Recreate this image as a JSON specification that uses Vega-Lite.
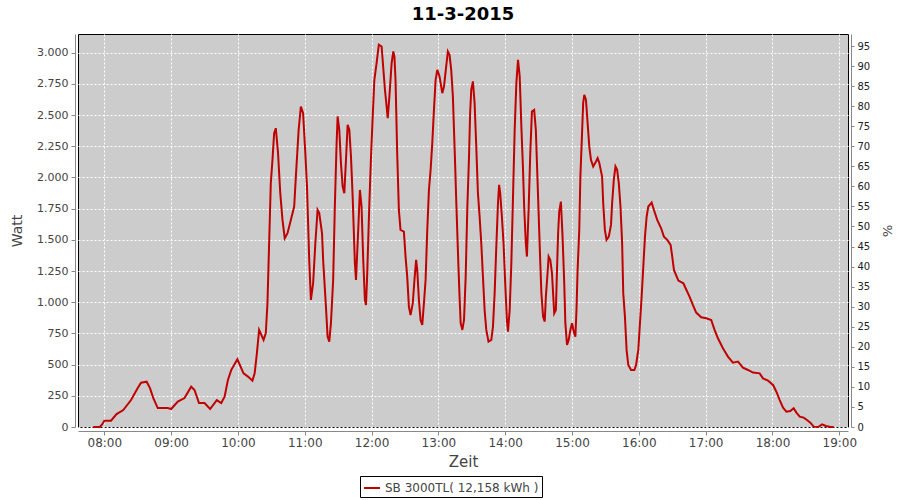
{
  "$schema": "https://vega.github.io/schema/vega-lite/v6.json",
  "width": 770,
  "height": 393,
  "autosize": {"type": "none"},
  "padding": {"left": 78, "top": 34, "right": 52, "bottom": 73},
  "background": "white",
  "title": {"text": "11-3-2015", "fontSize": 18, "fontWeight": "bold", "font": "DejaVu Sans", "color": "#000000", "offset": 7},
  "config": {
    "font": "DejaVu Sans",
    "view": {"fill": "#cccccc", "stroke": "#000000", "strokeWidth": 1},
    "axis": {"domainColor": "#888888", "tickColor": "#888888", "labelColor": "#444444", "titleColor": "#444444", "gridColor": "#ffffff", "gridDash": [2, 2], "gridOpacity": 1, "gridWidth": 1}
  },
  "layer": [
    {
      "data": {"values": [
        {"zeit": "2015-03-11T07:50:00", "watt": 0},
        {"zeit": "2015-03-11T07:56:00", "watt": 0},
        {"zeit": "2015-03-11T07:58:00", "watt": 20},
        {"zeit": "2015-03-11T08:00:00", "watt": 50},
        {"zeit": "2015-03-11T08:06:00", "watt": 50},
        {"zeit": "2015-03-11T08:11:00", "watt": 104},
        {"zeit": "2015-03-11T08:17:00", "watt": 136},
        {"zeit": "2015-03-11T08:24:00", "watt": 216},
        {"zeit": "2015-03-11T08:30:00", "watt": 312},
        {"zeit": "2015-03-11T08:33:00", "watt": 355},
        {"zeit": "2015-03-11T08:38:00", "watt": 363},
        {"zeit": "2015-03-11T08:41:00", "watt": 312},
        {"zeit": "2015-03-11T08:44:00", "watt": 232},
        {"zeit": "2015-03-11T08:48:00", "watt": 152},
        {"zeit": "2015-03-11T08:57:00", "watt": 152},
        {"zeit": "2015-03-11T09:00:00", "watt": 144},
        {"zeit": "2015-03-11T09:06:00", "watt": 203},
        {"zeit": "2015-03-11T09:12:00", "watt": 232},
        {"zeit": "2015-03-11T09:18:00", "watt": 323},
        {"zeit": "2015-03-11T09:21:00", "watt": 297},
        {"zeit": "2015-03-11T09:25:00", "watt": 192},
        {"zeit": "2015-03-11T09:30:00", "watt": 192},
        {"zeit": "2015-03-11T09:35:00", "watt": 144},
        {"zeit": "2015-03-11T09:41:00", "watt": 216},
        {"zeit": "2015-03-11T09:45:00", "watt": 192},
        {"zeit": "2015-03-11T09:48:00", "watt": 243},
        {"zeit": "2015-03-11T09:51:00", "watt": 377},
        {"zeit": "2015-03-11T09:54:00", "watt": 457},
        {"zeit": "2015-03-11T09:59:30", "watt": 543},
        {"zeit": "2015-03-11T10:05:00", "watt": 430},
        {"zeit": "2015-03-11T10:09:00", "watt": 404},
        {"zeit": "2015-03-11T10:13:00", "watt": 371},
        {"zeit": "2015-03-11T10:15:00", "watt": 430},
        {"zeit": "2015-03-11T10:17:00", "watt": 591},
        {"zeit": "2015-03-11T10:19:00", "watt": 778},
        {"zeit": "2015-03-11T10:23:00", "watt": 698},
        {"zeit": "2015-03-11T10:25:00", "watt": 751},
        {"zeit": "2015-03-11T10:26:30", "watt": 992},
        {"zeit": "2015-03-11T10:28:00", "watt": 1473},
        {"zeit": "2015-03-11T10:29:30", "watt": 1954},
        {"zeit": "2015-03-11T10:31:00", "watt": 2141},
        {"zeit": "2015-03-11T10:32:30", "watt": 2355},
        {"zeit": "2015-03-11T10:34:00", "watt": 2395},
        {"zeit": "2015-03-11T10:36:00", "watt": 2195},
        {"zeit": "2015-03-11T10:38:00", "watt": 1874},
        {"zeit": "2015-03-11T10:40:00", "watt": 1660},
        {"zeit": "2015-03-11T10:42:00", "watt": 1513},
        {"zeit": "2015-03-11T10:44:30", "watt": 1553},
        {"zeit": "2015-03-11T10:47:30", "watt": 1660},
        {"zeit": "2015-03-11T10:50:30", "watt": 1767},
        {"zeit": "2015-03-11T10:52:00", "watt": 2007},
        {"zeit": "2015-03-11T10:54:30", "watt": 2382},
        {"zeit": "2015-03-11T10:56:30", "watt": 2569},
        {"zeit": "2015-03-11T10:58:30", "watt": 2516},
        {"zeit": "2015-03-11T11:00:30", "watt": 2195},
        {"zeit": "2015-03-11T11:02:00", "watt": 1927},
        {"zeit": "2015-03-11T11:03:00", "watt": 1633},
        {"zeit": "2015-03-11T11:04:00", "watt": 1339},
        {"zeit": "2015-03-11T11:05:30", "watt": 1018},
        {"zeit": "2015-03-11T11:07:30", "watt": 1152},
        {"zeit": "2015-03-11T11:09:30", "watt": 1473},
        {"zeit": "2015-03-11T11:11:30", "watt": 1740},
        {"zeit": "2015-03-11T11:13:00", "watt": 1714},
        {"zeit": "2015-03-11T11:15:30", "watt": 1553},
        {"zeit": "2015-03-11T11:16:30", "watt": 1339},
        {"zeit": "2015-03-11T11:19:00", "watt": 965},
        {"zeit": "2015-03-11T11:20:30", "watt": 724},
        {"zeit": "2015-03-11T11:22:00", "watt": 684},
        {"zeit": "2015-03-11T11:23:30", "watt": 832},
        {"zeit": "2015-03-11T11:25:30", "watt": 1179},
        {"zeit": "2015-03-11T11:27:00", "watt": 1767},
        {"zeit": "2015-03-11T11:28:30", "watt": 2248},
        {"zeit": "2015-03-11T11:29:30", "watt": 2489},
        {"zeit": "2015-03-11T11:31:00", "watt": 2382},
        {"zeit": "2015-03-11T11:32:30", "watt": 2115},
        {"zeit": "2015-03-11T11:34:00", "watt": 1927},
        {"zeit": "2015-03-11T11:35:30", "watt": 1874},
        {"zeit": "2015-03-11T11:37:00", "watt": 2141},
        {"zeit": "2015-03-11T11:38:30", "watt": 2422},
        {"zeit": "2015-03-11T11:40:00", "watt": 2382},
        {"zeit": "2015-03-11T11:41:30", "watt": 2168},
        {"zeit": "2015-03-11T11:43:00", "watt": 1847},
        {"zeit": "2015-03-11T11:45:00", "watt": 1313},
        {"zeit": "2015-03-11T11:46:00", "watt": 1179},
        {"zeit": "2015-03-11T11:48:00", "watt": 1580},
        {"zeit": "2015-03-11T11:49:30", "watt": 1900},
        {"zeit": "2015-03-11T11:51:00", "watt": 1767},
        {"zeit": "2015-03-11T11:52:30", "watt": 1339},
        {"zeit": "2015-03-11T11:54:00", "watt": 1018},
        {"zeit": "2015-03-11T11:55:00", "watt": 978},
        {"zeit": "2015-03-11T11:56:00", "watt": 1205},
        {"zeit": "2015-03-11T11:58:00", "watt": 1794},
        {"zeit": "2015-03-11T11:59:30", "watt": 2168},
        {"zeit": "2015-03-11T12:01:00", "watt": 2489},
        {"zeit": "2015-03-11T12:02:30", "watt": 2783},
        {"zeit": "2015-03-11T12:04:30", "watt": 2917},
        {"zeit": "2015-03-11T12:06:30", "watt": 3064},
        {"zeit": "2015-03-11T12:09:00", "watt": 3050},
        {"zeit": "2015-03-11T12:12:00", "watt": 2703},
        {"zeit": "2015-03-11T12:13:30", "watt": 2569},
        {"zeit": "2015-03-11T12:14:30", "watt": 2476},
        {"zeit": "2015-03-11T12:16:00", "watt": 2650},
        {"zeit": "2015-03-11T12:18:00", "watt": 2917},
        {"zeit": "2015-03-11T12:19:30", "watt": 3010},
        {"zeit": "2015-03-11T12:20:30", "watt": 2970},
        {"zeit": "2015-03-11T12:21:30", "watt": 2783},
        {"zeit": "2015-03-11T12:23:00", "watt": 2195},
        {"zeit": "2015-03-11T12:24:30", "watt": 1740},
        {"zeit": "2015-03-11T12:26:00", "watt": 1580},
        {"zeit": "2015-03-11T12:29:00", "watt": 1566},
        {"zeit": "2015-03-11T12:30:30", "watt": 1366},
        {"zeit": "2015-03-11T12:32:00", "watt": 1205},
        {"zeit": "2015-03-11T12:33:30", "watt": 965},
        {"zeit": "2015-03-11T12:35:00", "watt": 898},
        {"zeit": "2015-03-11T12:37:00", "watt": 992},
        {"zeit": "2015-03-11T12:38:30", "watt": 1179},
        {"zeit": "2015-03-11T12:40:00", "watt": 1339},
        {"zeit": "2015-03-11T12:41:00", "watt": 1259},
        {"zeit": "2015-03-11T12:42:30", "watt": 1018},
        {"zeit": "2015-03-11T12:44:00", "watt": 858},
        {"zeit": "2015-03-11T12:45:30", "watt": 818},
        {"zeit": "2015-03-11T12:47:00", "watt": 992},
        {"zeit": "2015-03-11T12:48:30", "watt": 1179},
        {"zeit": "2015-03-11T12:50:00", "watt": 1580},
        {"zeit": "2015-03-11T12:51:30", "watt": 1900},
        {"zeit": "2015-03-11T12:53:00", "watt": 2061},
        {"zeit": "2015-03-11T12:54:30", "watt": 2275},
        {"zeit": "2015-03-11T12:56:00", "watt": 2542},
        {"zeit": "2015-03-11T12:57:30", "watt": 2783},
        {"zeit": "2015-03-11T12:59:00", "watt": 2863},
        {"zeit": "2015-03-11T13:01:00", "watt": 2810},
        {"zeit": "2015-03-11T13:03:30", "watt": 2676},
        {"zeit": "2015-03-11T13:05:00", "watt": 2729},
        {"zeit": "2015-03-11T13:07:00", "watt": 2890},
        {"zeit": "2015-03-11T13:08:30", "watt": 3010},
        {"zeit": "2015-03-11T13:10:00", "watt": 2983},
        {"zeit": "2015-03-11T13:11:30", "watt": 2863},
        {"zeit": "2015-03-11T13:13:00", "watt": 2650},
        {"zeit": "2015-03-11T13:14:00", "watt": 2382},
        {"zeit": "2015-03-11T13:15:00", "watt": 2115},
        {"zeit": "2015-03-11T13:16:00", "watt": 1820},
        {"zeit": "2015-03-11T13:17:00", "watt": 1553},
        {"zeit": "2015-03-11T13:18:00", "watt": 1286},
        {"zeit": "2015-03-11T13:19:00", "watt": 1045},
        {"zeit": "2015-03-11T13:20:00", "watt": 832},
        {"zeit": "2015-03-11T13:21:30", "watt": 778},
        {"zeit": "2015-03-11T13:23:00", "watt": 858},
        {"zeit": "2015-03-11T13:24:30", "watt": 1205},
        {"zeit": "2015-03-11T13:26:00", "watt": 1767},
        {"zeit": "2015-03-11T13:27:30", "watt": 2168},
        {"zeit": "2015-03-11T13:28:30", "watt": 2516},
        {"zeit": "2015-03-11T13:29:30", "watt": 2703},
        {"zeit": "2015-03-11T13:31:00", "watt": 2770},
        {"zeit": "2015-03-11T13:32:30", "watt": 2596},
        {"zeit": "2015-03-11T13:34:00", "watt": 2248},
        {"zeit": "2015-03-11T13:35:30", "watt": 1874},
        {"zeit": "2015-03-11T13:37:00", "watt": 1687},
        {"zeit": "2015-03-11T13:38:30", "watt": 1473},
        {"zeit": "2015-03-11T13:40:00", "watt": 1205},
        {"zeit": "2015-03-11T13:41:30", "watt": 938},
        {"zeit": "2015-03-11T13:43:00", "watt": 778},
        {"zeit": "2015-03-11T13:45:00", "watt": 684},
        {"zeit": "2015-03-11T13:47:30", "watt": 698},
        {"zeit": "2015-03-11T13:49:00", "watt": 805},
        {"zeit": "2015-03-11T13:50:30", "watt": 1072},
        {"zeit": "2015-03-11T13:52:00", "watt": 1446},
        {"zeit": "2015-03-11T13:53:30", "watt": 1794},
        {"zeit": "2015-03-11T13:54:30", "watt": 1941},
        {"zeit": "2015-03-11T13:55:30", "watt": 1874},
        {"zeit": "2015-03-11T13:57:00", "watt": 1687},
        {"zeit": "2015-03-11T13:58:30", "watt": 1473},
        {"zeit": "2015-03-11T14:00:00", "watt": 1152},
        {"zeit": "2015-03-11T14:01:30", "watt": 858},
        {"zeit": "2015-03-11T14:02:30", "watt": 765},
        {"zeit": "2015-03-11T14:04:00", "watt": 938},
        {"zeit": "2015-03-11T14:05:30", "watt": 1313},
        {"zeit": "2015-03-11T14:07:00", "watt": 1847},
        {"zeit": "2015-03-11T14:08:30", "watt": 2382},
        {"zeit": "2015-03-11T14:10:00", "watt": 2756},
        {"zeit": "2015-03-11T14:11:30", "watt": 2943},
        {"zeit": "2015-03-11T14:13:00", "watt": 2810},
        {"zeit": "2015-03-11T14:14:30", "watt": 2408},
        {"zeit": "2015-03-11T14:16:00", "watt": 2061},
        {"zeit": "2015-03-11T14:17:00", "watt": 1767},
        {"zeit": "2015-03-11T14:18:30", "watt": 1473},
        {"zeit": "2015-03-11T14:19:30", "watt": 1366},
        {"zeit": "2015-03-11T14:21:00", "watt": 1740},
        {"zeit": "2015-03-11T14:22:30", "watt": 2195},
        {"zeit": "2015-03-11T14:24:00", "watt": 2529},
        {"zeit": "2015-03-11T14:26:00", "watt": 2542},
        {"zeit": "2015-03-11T14:27:30", "watt": 2382},
        {"zeit": "2015-03-11T14:28:30", "watt": 2115},
        {"zeit": "2015-03-11T14:29:30", "watt": 1847},
        {"zeit": "2015-03-11T14:30:30", "watt": 1580},
        {"zeit": "2015-03-11T14:31:30", "watt": 1313},
        {"zeit": "2015-03-11T14:32:30", "watt": 1072},
        {"zeit": "2015-03-11T14:34:00", "watt": 885},
        {"zeit": "2015-03-11T14:35:30", "watt": 845},
        {"zeit": "2015-03-11T14:36:30", "watt": 1045},
        {"zeit": "2015-03-11T14:38:00", "watt": 1232},
        {"zeit": "2015-03-11T14:39:00", "watt": 1366},
        {"zeit": "2015-03-11T14:40:30", "watt": 1339},
        {"zeit": "2015-03-11T14:42:00", "watt": 1232},
        {"zeit": "2015-03-11T14:43:00", "watt": 1072},
        {"zeit": "2015-03-11T14:44:00", "watt": 911},
        {"zeit": "2015-03-11T14:45:30", "watt": 938},
        {"zeit": "2015-03-11T14:46:30", "watt": 1259},
        {"zeit": "2015-03-11T14:47:30", "watt": 1553},
        {"zeit": "2015-03-11T14:48:30", "watt": 1727},
        {"zeit": "2015-03-11T14:50:00", "watt": 1807},
        {"zeit": "2015-03-11T14:51:30", "watt": 1526},
        {"zeit": "2015-03-11T14:53:00", "watt": 1152},
        {"zeit": "2015-03-11T14:54:00", "watt": 832},
        {"zeit": "2015-03-11T14:55:30", "watt": 658},
        {"zeit": "2015-03-11T14:57:00", "watt": 698},
        {"zeit": "2015-03-11T14:58:30", "watt": 778},
        {"zeit": "2015-03-11T15:00:00", "watt": 832},
        {"zeit": "2015-03-11T15:01:30", "watt": 765},
        {"zeit": "2015-03-11T15:03:00", "watt": 724},
        {"zeit": "2015-03-11T15:04:00", "watt": 938},
        {"zeit": "2015-03-11T15:05:00", "watt": 1259},
        {"zeit": "2015-03-11T15:06:30", "watt": 1580},
        {"zeit": "2015-03-11T15:07:30", "watt": 2007},
        {"zeit": "2015-03-11T15:09:00", "watt": 2355},
        {"zeit": "2015-03-11T15:10:00", "watt": 2596},
        {"zeit": "2015-03-11T15:11:00", "watt": 2663},
        {"zeit": "2015-03-11T15:12:30", "watt": 2623},
        {"zeit": "2015-03-11T15:14:00", "watt": 2436},
        {"zeit": "2015-03-11T15:15:30", "watt": 2248},
        {"zeit": "2015-03-11T15:17:00", "watt": 2141},
        {"zeit": "2015-03-11T15:19:00", "watt": 2088},
        {"zeit": "2015-03-11T15:21:30", "watt": 2128},
        {"zeit": "2015-03-11T15:23:00", "watt": 2155},
        {"zeit": "2015-03-11T15:24:30", "watt": 2115},
        {"zeit": "2015-03-11T15:27:00", "watt": 2007},
        {"zeit": "2015-03-11T15:28:00", "watt": 1794},
        {"zeit": "2015-03-11T15:29:30", "watt": 1580},
        {"zeit": "2015-03-11T15:31:00", "watt": 1500},
        {"zeit": "2015-03-11T15:33:00", "watt": 1526},
        {"zeit": "2015-03-11T15:35:00", "watt": 1620},
        {"zeit": "2015-03-11T15:36:00", "watt": 1794},
        {"zeit": "2015-03-11T15:37:30", "watt": 1981},
        {"zeit": "2015-03-11T15:39:00", "watt": 2088},
        {"zeit": "2015-03-11T15:40:30", "watt": 2061},
        {"zeit": "2015-03-11T15:42:00", "watt": 1954},
        {"zeit": "2015-03-11T15:43:30", "watt": 1767},
        {"zeit": "2015-03-11T15:45:00", "watt": 1473},
        {"zeit": "2015-03-11T15:46:00", "watt": 1072},
        {"zeit": "2015-03-11T15:47:30", "watt": 885},
        {"zeit": "2015-03-11T15:49:00", "watt": 618},
        {"zeit": "2015-03-11T15:50:30", "watt": 497},
        {"zeit": "2015-03-11T15:53:00", "watt": 457},
        {"zeit": "2015-03-11T15:56:00", "watt": 457},
        {"zeit": "2015-03-11T15:57:30", "watt": 497},
        {"zeit": "2015-03-11T15:59:30", "watt": 618},
        {"zeit": "2015-03-11T16:01:00", "watt": 832},
        {"zeit": "2015-03-11T16:02:30", "watt": 1045},
        {"zeit": "2015-03-11T16:04:00", "watt": 1286},
        {"zeit": "2015-03-11T16:05:30", "watt": 1526},
        {"zeit": "2015-03-11T16:07:00", "watt": 1687},
        {"zeit": "2015-03-11T16:08:30", "watt": 1767},
        {"zeit": "2015-03-11T16:11:30", "watt": 1799},
        {"zeit": "2015-03-11T16:13:30", "watt": 1740},
        {"zeit": "2015-03-11T16:16:30", "watt": 1660},
        {"zeit": "2015-03-11T16:20:00", "watt": 1593},
        {"zeit": "2015-03-11T16:22:30", "watt": 1526},
        {"zeit": "2015-03-11T16:25:30", "watt": 1500},
        {"zeit": "2015-03-11T16:28:30", "watt": 1460},
        {"zeit": "2015-03-11T16:30:00", "watt": 1366},
        {"zeit": "2015-03-11T16:31:30", "watt": 1259},
        {"zeit": "2015-03-11T16:34:00", "watt": 1205},
        {"zeit": "2015-03-11T16:35:30", "watt": 1173},
        {"zeit": "2015-03-11T16:40:00", "watt": 1152},
        {"zeit": "2015-03-11T16:42:00", "watt": 1112},
        {"zeit": "2015-03-11T16:45:30", "watt": 1045},
        {"zeit": "2015-03-11T16:48:30", "watt": 978},
        {"zeit": "2015-03-11T16:51:30", "watt": 917},
        {"zeit": "2015-03-11T16:56:00", "watt": 880},
        {"zeit": "2015-03-11T17:00:30", "watt": 872},
        {"zeit": "2015-03-11T17:05:00", "watt": 858},
        {"zeit": "2015-03-11T17:08:00", "watt": 778},
        {"zeit": "2015-03-11T17:11:00", "watt": 711},
        {"zeit": "2015-03-11T17:15:30", "watt": 631},
        {"zeit": "2015-03-11T17:20:00", "watt": 564},
        {"zeit": "2015-03-11T17:24:30", "watt": 516},
        {"zeit": "2015-03-11T17:29:00", "watt": 524},
        {"zeit": "2015-03-11T17:33:30", "watt": 476},
        {"zeit": "2015-03-11T17:38:00", "watt": 457},
        {"zeit": "2015-03-11T17:42:30", "watt": 436},
        {"zeit": "2015-03-11T17:48:30", "watt": 430},
        {"zeit": "2015-03-11T17:51:30", "watt": 390},
        {"zeit": "2015-03-11T17:56:00", "watt": 371},
        {"zeit": "2015-03-11T18:00:30", "watt": 337},
        {"zeit": "2015-03-11T18:03:30", "watt": 283},
        {"zeit": "2015-03-11T18:06:30", "watt": 216},
        {"zeit": "2015-03-11T18:09:30", "watt": 155},
        {"zeit": "2015-03-11T18:12:30", "watt": 123},
        {"zeit": "2015-03-11T18:16:00", "watt": 128},
        {"zeit": "2015-03-11T18:19:00", "watt": 150},
        {"zeit": "2015-03-11T18:21:30", "watt": 115},
        {"zeit": "2015-03-11T18:24:30", "watt": 83},
        {"zeit": "2015-03-11T18:28:00", "watt": 75},
        {"zeit": "2015-03-11T18:31:00", "watt": 56},
        {"zeit": "2015-03-11T18:34:00", "watt": 35},
        {"zeit": "2015-03-11T18:37:00", "watt": 3},
        {"zeit": "2015-03-11T18:41:00", "watt": 0},
        {"zeit": "2015-03-11T18:44:30", "watt": 21},
        {"zeit": "2015-03-11T18:48:00", "watt": 8},
        {"zeit": "2015-03-11T18:52:00", "watt": 0},
        {"zeit": "2015-03-11T18:55:00", "watt": 0}
      ]},
      "mark": {"type": "line", "strokeWidth": 2, "color": "#c00000"},
      "encoding": {
        "x": {
          "field": "zeit", "type": "temporal",
          "scale": {"domain": [
            {"year": 2015, "month": 3, "date": 11, "hours": 7, "minutes": 36, "seconds": 22},
            {"year": 2015, "month": 3, "date": 11, "hours": 19, "minutes": 7, "seconds": 49}
          ]},
          "axis": {
            "title": "Zeit", "titleFontSize": 15, "titleFontWeight": "normal", "titlePadding": 6,
            "format": "%H:%M", "tickCount": "hour",
            "labelFontSize": 12, "labelPadding": 2, "labelFlush": false,
            "offset": 4, "tickSize": 4, "grid": true
          }
        },
        "y": {
          "field": "watt", "type": "quantitative",
          "scale": {"domain": [0, 3150], "nice": false},
          "axis": {
            "title": "Watt", "titleFontSize": 14, "titleFontWeight": "normal", "titlePadding": 12,
            "values": [0, 250, 500, 750, 1000, 1250, 1500, 1750, 2000, 2250, 2500, 2750, 3000],
            "labelExpr": "replace(format(datum.value, ','), ',', '.')",
            "labelFontSize": 11, "labelPadding": 3, "offset": 3, "tickSize": 4, "grid": true
          }
        },
        "color": {
          "datum": "SB 3000TL( 12,158 kWh )",
          "type": "nominal",
          "scale": {"range": ["#c00000"]},
          "legend": {
            "title": null, "orient": "none", "legendX": 282, "legendY": 442,
            "direction": "horizontal",
            "strokeColor": "#000000", "fillColor": "#ffffff", "padding": 3, "cornerRadius": 0,
            "symbolType": "stroke", "symbolSize": 256, "symbolStrokeWidth": 2,
            "labelFontSize": 12, "labelColor": "#444444", "labelOffset": 4, "labelLimit": 300
          }
        }
      }
    },
    {
      "data": {"values": [{"prozent": 0}, {"prozent": 98}]},
      "mark": {"type": "point", "opacity": 0},
      "encoding": {
        "y": {
          "field": "prozent", "type": "quantitative",
          "scale": {"domain": [0, 98], "nice": false},
          "axis": {
            "orient": "right", "title": "%", "titleFontSize": 13, "titleFontWeight": "normal", "titlePadding": 10,
            "values": [0, 5, 10, 15, 20, 25, 30, 35, 40, 45, 50, 55, 60, 65, 70, 75, 80, 85, 90, 95],
            "labelFontSize": 10, "labelColor": "#222222", "labelPadding": 3, "offset": 3, "tickSize": 3, "grid": false
          }
        }
      }
    }
  ],
  "resolve": {"scale": {"y": "independent"}}
}
